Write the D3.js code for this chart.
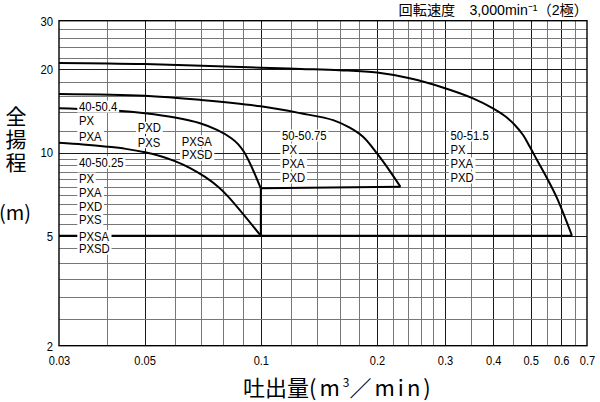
<!DOCTYPE html>
<html><head><meta charset="utf-8">
<script src="https://cdn.jsdelivr.net/npm/d3@7"></script>
<style>
html,body{margin:0;padding:0;background:#fff;}
svg{display:block;}
</style></head><body>
<svg id="chart" width="600" height="402"></svg>
<script>
// ---- data ----
const xTickLabels = [0.03, 0.05, 0.1, 0.2, 0.3, 0.4, 0.5, 0.6, 0.7];
const yTickLabels = [2, 5, 10, 20, 30];
const xGridLines = [0.04,0.05,0.06,0.07,0.08,0.09,0.1,0.12,0.14,0.16,0.18,0.2,0.22,0.24,0.26,0.28,0.3,0.35,0.4,0.45,0.5,0.55,0.6,0.65];
const yGridLines = [2.5,3,3.5,4,4.5,5,5.5,6,6.5,7,7.5,8,8.5,9,9.5,10,12,14,16,18,20,22,24,26,28];
const xMajor = [0.05,0.1,0.2,0.3,0.4,0.5,0.6];
const yMajor = [5,10,20];

// head curves [flow m3/min, head m]
const curve50_51_5 = [[0.03,21.1],[0.05,20.9],[0.1,20.27],[0.127,20.06],[0.16,19.85],[0.2,19.47],[0.243,18.56],[0.296,17.2],[0.3545,15.71],[0.3995,14.46],[0.429,13.56],[0.455,12.58],[0.478,11.57],[0.498,10.47],[0.522,9.28],[0.551,8.09],[0.585,6.85],[0.64,5.0]];
const curve50_50_75 = [[0.03,16.3],[0.05,16.06],[0.07,15.5],[0.1,14.7],[0.127,13.87],[0.154,13.1],[0.17,12.3],[0.184,11.4],[0.2,9.93],[0.212,8.89],[0.23,7.52]];
const curve40_50_4 = [[0.03,14.46],[0.0427,14.17],[0.0501,13.87],[0.0599,13.38],[0.0696,12.76],[0.077,12.07],[0.0837,11.29],[0.0873,10.73],[0.0905,10.04],[0.0952,8.72],[0.1,7.42]];
const curve40_50_25 = [[0.03,10.85],[0.0346,10.7],[0.04,10.5],[0.0447,10.31],[0.0501,10.03],[0.0548,9.72],[0.0599,9.31],[0.0656,8.79],[0.0717,8.16],[0.0775,7.52],[0.0822,6.94],[0.1,5.0]];
const limitLines = [
  [[0.03,5],[0.64,5]],
  [[0.1,5],[0.1,7.42]],
  [[0.1,7.42],[0.23,7.52]]
];

const labelGroups = [
  {x:0.0338, rows:[["40-50.4",14.73],["PX",13.1],["PXA",11.5]]},
  {x:0.0338, rows:[["40-50.25",9.25],["PX",8.08],["PXA",7.2],["PXD",6.41],["PXS",5.74],["PXSA",5.0],["PXSD",4.51]]},
  {x:0.048, rows:[["PXD",12.34],["PXS",10.94]]},
  {x:0.0624, rows:[["PXSA",11.03],["PXSD",9.86]]},
  {x:0.1135, rows:[["50-50.75",11.57],["PX",10.3],["PXA",9.17],["PXD",8.16]]},
  {x:0.310, rows:[["50-51.5",11.57],["PX",10.3],["PXA",9.17],["PXD",8.16]]}
];

// ---- layout ----
const svg = d3.select("#chart");
const L = 59, R = 587, T = 20.7, B = 345.7;
const x = d3.scaleLog().domain([0.03, 0.7]).range([L, R]);
const y = d3.scaleLog().domain([2, 30]).range([B, T]);
const sans = "'Liberation Sans',Arial,sans-serif";
const cjk = "'Noto Sans CJK JP','Noto Sans CJK SC',sans-serif";
const snap = v => Math.round(v) + 0.5;

// grid
const g = svg.append("g");
g.selectAll("line.vx").data(xGridLines).join("line")
  .attr("x1", d => snap(x(d))).attr("x2", d => snap(x(d)))
  .attr("y1", T).attr("y2", B)
  .attr("stroke", d => xMajor.includes(d) ? "#1a1a1a" : "#777")
  .attr("stroke-width", 1);
g.selectAll("line.hy").data(yGridLines).join("line")
  .attr("y1", d => snap(y(d))).attr("y2", d => snap(y(d)))
  .attr("x1", L).attr("x2", R)
  .attr("stroke", d => yMajor.includes(d) ? "#1a1a1a" : "#777")
  .attr("stroke-width", 1);

// frame
svg.append("rect").attr("x", L).attr("y", T).attr("width", R-L).attr("height", B-T)
  .attr("fill","none").attr("stroke","#000").attr("stroke-width",1.4);

// curves
const line = d3.line().x(d => x(d[0])).y(d => y(d[1])).curve(d3.curveCatmullRom.alpha(0.5));
const lin = d3.line().x(d => x(d[0])).y(d => y(d[1]));
[curve50_51_5, curve50_50_75, curve40_50_4, curve40_50_25].forEach(c => {
  svg.append("path").attr("d", line(c)).attr("fill","none").attr("stroke","#000").attr("stroke-width",2).attr("stroke-linejoin","round");
});
limitLines.forEach(c => {
  svg.append("path").attr("d", lin(c)).attr("fill","none").attr("stroke","#000").attr("stroke-width",2);
});

// labels with white backgrounds (condensed via horizontal scale)
const lg = svg.append("g");
labelGroups.forEach(grp => {
  grp.rows.forEach(([t, v]) => {
    const gg = lg.append("g").attr("transform", `translate(${x(grp.x)},${y(v) + 4.8}) scale(0.85,1)`);
    const txt = gg.append("text").attr("x", 0).attr("y", 0)
      .attr("font-family", sans).attr("font-size", 13.3).attr("fill","#000").text(t);
    const bb = txt.node().getBBox();
    gg.insert("rect","text").attr("x", bb.x-2).attr("y", bb.y+1.5).attr("width", bb.width+4).attr("height", bb.height-3).attr("fill","#fff");
  });
});

// axes tick labels
const xAxis = d3.axisBottom(x).tickValues(xTickLabels).tickSize(0).tickPadding(0)
  .tickFormat(d => String(d));
const xa = svg.append("g").attr("transform", `translate(0,${B+19.5})`).call(xAxis);
xa.select(".domain").remove();
xa.selectAll("text").attr("font-family", sans).attr("font-size", 13.5).attr("fill","#000").attr("dy","0").attr("transform","scale(0.82,1)");
const yAxis = d3.axisLeft(y).tickValues(yTickLabels).tickSize(0).tickPadding(0).tickFormat(d => String(d));
const ya = svg.append("g").attr("transform", `translate(${L-6},0)`).call(yAxis);
ya.select(".domain").remove();
ya.selectAll("text").attr("font-family", sans).attr("font-size", 13.5).attr("fill","#000").attr("transform","scale(0.84,1)");

// title (single text; Latin in Liberation Sans, CJK falls back to Noto Sans CJK)
svg.append("text").attr("x", 588).attr("y", 14.5).attr("text-anchor","end").attr("fill","#000")
  .attr("font-family", "'Liberation Sans','Noto Sans CJK JP',sans-serif").attr("font-size", 14.2)
  .text("回転速度　3,000min⁻¹（2極）");

// y title (vertical)
svg.append("text").attr("x", 16).attr("y", 106)
  .attr("writing-mode","vertical-rl").attr("letter-spacing", 2)
  .attr("font-family", cjk).attr("font-size", 21).attr("fill","#000").text("全揚程");
svg.append("text").attr("x", 15).attr("y", 220).attr("text-anchor","middle")
  .attr("font-family", cjk).attr("font-size", 20).attr("fill","#000").text("(m)");

// x title
const xt = svg.append("text").attr("x", 243).attr("y", 396).attr("fill","#000").attr("font-family", cjk).attr("font-size", 22);
xt.append("tspan").text("吐出量");
xt.append("tspan").attr("letter-spacing", 3).text("(m");
xt.append("tspan").attr("font-size", 12).attr("dy", -9).text("3");
xt.append("tspan").attr("dy", 9).attr("letter-spacing", 3).text("／min)");
</script>
</body></html>
